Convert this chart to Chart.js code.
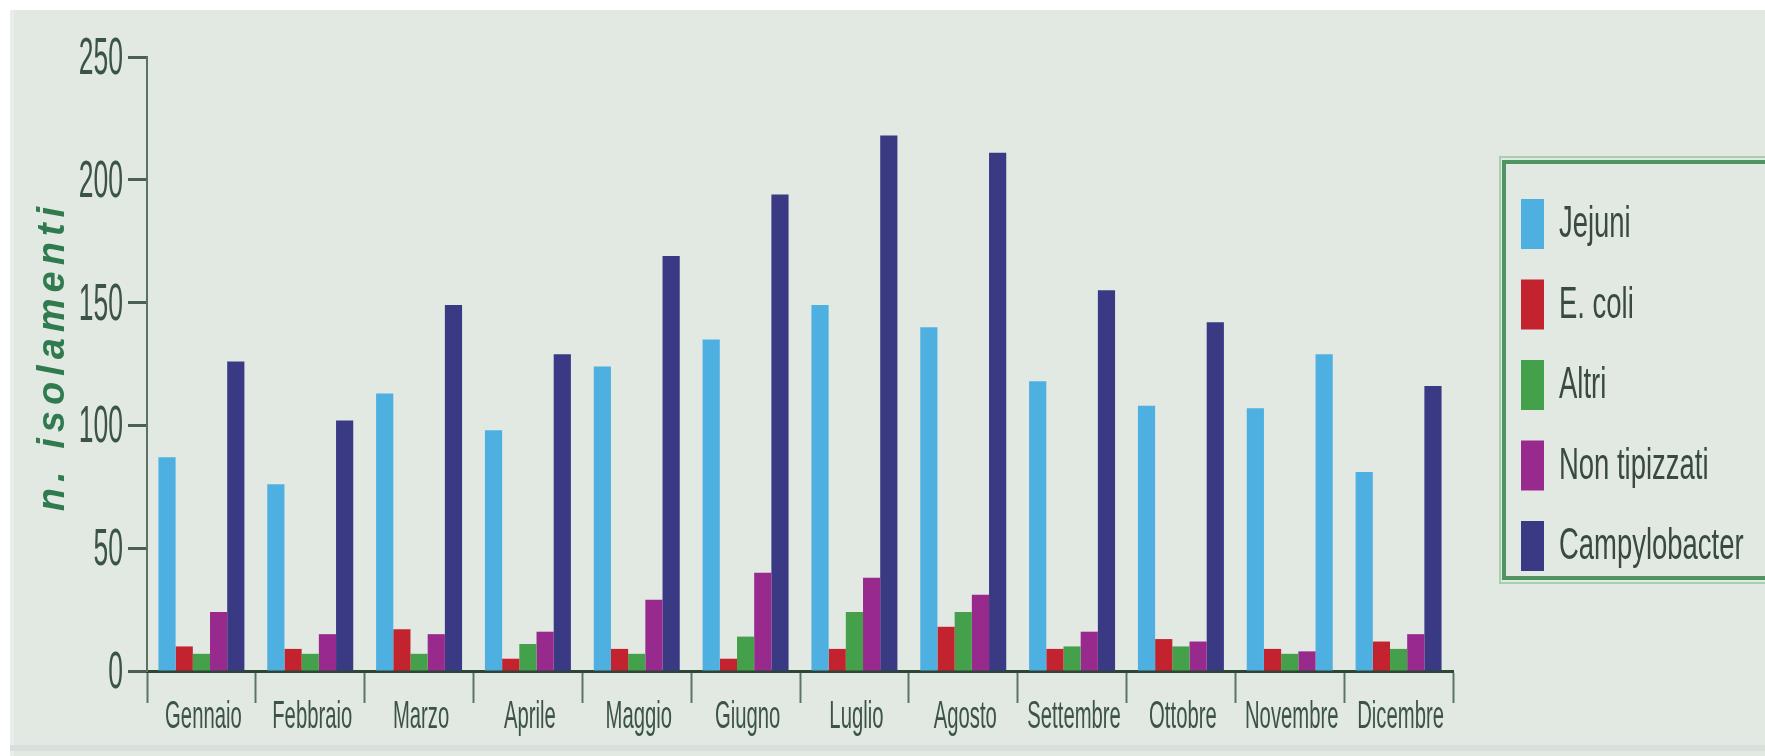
<!DOCTYPE html>
<html>
<head>
<meta charset="utf-8">
<script src="https://cdn.jsdelivr.net/npm/chart.js@4/dist/chart.umd.min.js"></script>
<style>
  html, body { margin: 0; padding: 0; background: #ffffff; overflow: hidden; }
  canvas { display: block; }
</style>
</head>
<body>
<canvas id="chart" width="1765" height="756"></canvas>
<script>
// Chart data
const months = ['Gennaio', 'Febbraio', 'Marzo', 'Aprile', 'Maggio', 'Giugno',
  'Luglio', 'Agosto', 'Settembre', 'Ottobre', 'Novembre', 'Dicembre'];
const seriesNames = ['Jejuni', 'E. coli', 'Altri', 'Non tipizzati', 'Campylobacter'];
const jejuni = [87, 76, 113, 98, 124, 135, 149, 140, 118, 108, 107, 81];
const eColi = [10, 9, 17, 5, 9, 5, 9, 18, 9, 13, 9, 12];
const altri = [7, 7, 7, 11, 7, 14, 24, 24, 10, 10, 7, 9];
const nonTipizzati = [24, 15, 15, 16, 29, 40, 38, 31, 16, 12, 8, 15];
const campylobacter = [126, 102, 149, 129, 169, 194, 218, 211, 155, 142, 129, 116];
const yTicks = [0, 50, 100, 150, 200, 250];

const COLORS = {
  jejuni: '#4eb0e1',
  eColi: '#c3232e',
  altri: '#45a04c',
  nonTip: '#992a8d',
  campy: '#3a3984'
};

// the original draws the November Campylobacter bar in the Jejuni colour
const campyColors = months.map(m => (m === 'Novembre' ? COLORS.jejuni : COLORS.campy));

const TEXT_COLOR = '#3b5445';
const FONT = '"Liberation Sans", Arial, sans-serif';

// Draw horizontally squeezed text (the original uses a very narrow face)
function narrowText(ctx, text, x, y, sx, align) {
  ctx.save();
  ctx.translate(x, y);
  ctx.scale(sx, 1);
  ctx.textAlign = align;
  ctx.fillText(text, 0, 0);
  ctx.restore();
}

const backgroundPlugin = {
  id: 'background',
  beforeDraw(chart) {
    const { ctx, width, height } = chart;
    ctx.save();
    ctx.fillStyle = '#ffffff';
    ctx.fillRect(0, 0, width, height);
    ctx.fillStyle = '#e2e9e3';
    ctx.fillRect(10, 10, width - 10, height - 10);
    ctx.fillStyle = '#e8eee9';
    ctx.fillRect(10, 10, 4, height - 10);
    ctx.fillStyle = '#d9e0db';
    ctx.fillRect(10, 745, width - 10, 6);
    ctx.restore();
  }
};

const labelsPlugin = {
  id: 'customLabels',
  afterDraw(chart) {
    const { ctx } = chart;
    const yScale = chart.scales.y;
    const xScale = chart.scales.x;

    ctx.save();
    ctx.fillStyle = TEXT_COLOR;

    // Y tick labels
    ctx.font = '51px ' + FONT;
    ctx.textBaseline = 'middle';
    yScale.ticks.forEach(t => {
      const py = yScale.getPixelForValue(t.value);
      narrowText(ctx, String(t.value), 123, py + 3, 0.52, 'right');
    });

    // Month labels
    ctx.font = '39px ' + FONT;
    ctx.textBaseline = 'alphabetic';
    months.forEach((m, i) => {
      narrowText(ctx, m, xScale.getPixelForValue(i) + 2, 728, 0.52, 'center');
    });

    // Y axis title
    ctx.save();
    ctx.translate(54, 356);
    ctx.rotate(-Math.PI / 2);
    ctx.font = 'italic bold 38px ' + FONT;
    ctx.fillStyle = '#2f7a4e';
    ctx.textAlign = 'center';
    ctx.textBaseline = 'middle';
    ctx.letterSpacing = '6px';
    ctx.fillText('n. isolamenti', 0, 0);
    ctx.restore();

    // Legend box
    ctx.strokeStyle = '#a4d0ae';
    ctx.lineWidth = 2;
    ctx.strokeRect(1500, 157, 320, 426);
    ctx.strokeStyle = '#4f9461';
    ctx.lineWidth = 4;
    ctx.strokeRect(1504, 162, 320, 416);

    ctx.font = '45px ' + FONT;
    ctx.textBaseline = 'middle';
    chart.data.datasets.forEach((ds, i) => {
      const cy = 224 + i * 80.5;
      ctx.fillStyle = ds.legendColor;
      ctx.fillRect(1521, cy - 25, 23, 50);
      ctx.fillStyle = '#384b3e';
      narrowText(ctx, ds.label, 1559, cy + 1, 0.61, 'left');
    });

    ctx.restore();
  }
};

const ctx = document.getElementById('chart').getContext('2d');

new Chart(ctx, {
  type: 'bar',
  data: {
    labels: months,
    datasets: [
      { label: seriesNames[0], data: jejuni, backgroundColor: COLORS.jejuni, legendColor: COLORS.jejuni },
      { label: seriesNames[1], data: eColi, backgroundColor: COLORS.eColi, legendColor: COLORS.eColi },
      { label: seriesNames[2], data: altri, backgroundColor: COLORS.altri, legendColor: COLORS.altri },
      { label: seriesNames[3], data: nonTipizzati, backgroundColor: COLORS.nonTip, legendColor: COLORS.nonTip },
      { label: seriesNames[4], data: campylobacter, backgroundColor: campyColors, legendColor: COLORS.campy }
    ]
  },
  options: {
    responsive: false,
    animation: false,
    devicePixelRatio: 1,
    layout: {
      padding: { left: 128, top: 57, right: 312, bottom: 53 }
    },
    datasets: {
      bar: {
        categoryPercentage: 0.79,
        barPercentage: 1.0,
        borderWidth: 0
      }
    },
    scales: {
      x: {
        ticks: { display: false },
        grid: {
          offset: true,
          drawOnChartArea: false,
          drawTicks: true,
          tickLength: 32,
          tickWidth: 2,
          tickColor: '#5b7463'
        },
        border: { display: true, color: '#2d4737', width: 3 }
      },
      y: {
        min: 0,
        max: 250,
        afterBuildTicks: scale => {
          scale.ticks = yTicks.map(v => ({ value: v }));
        },
        ticks: { display: false },
        grid: {
          drawOnChartArea: false,
          drawTicks: true,
          tickLength: 19,
          tickWidth: 3,
          tickColor: '#4a6052'
        },
        border: { display: true, color: '#5a7262', width: 2 }
      }
    },
    plugins: {
      legend: { display: false },
      tooltip: { enabled: false }
    }
  },
  plugins: [backgroundPlugin, labelsPlugin]
});
</script>
</body>
</html>
